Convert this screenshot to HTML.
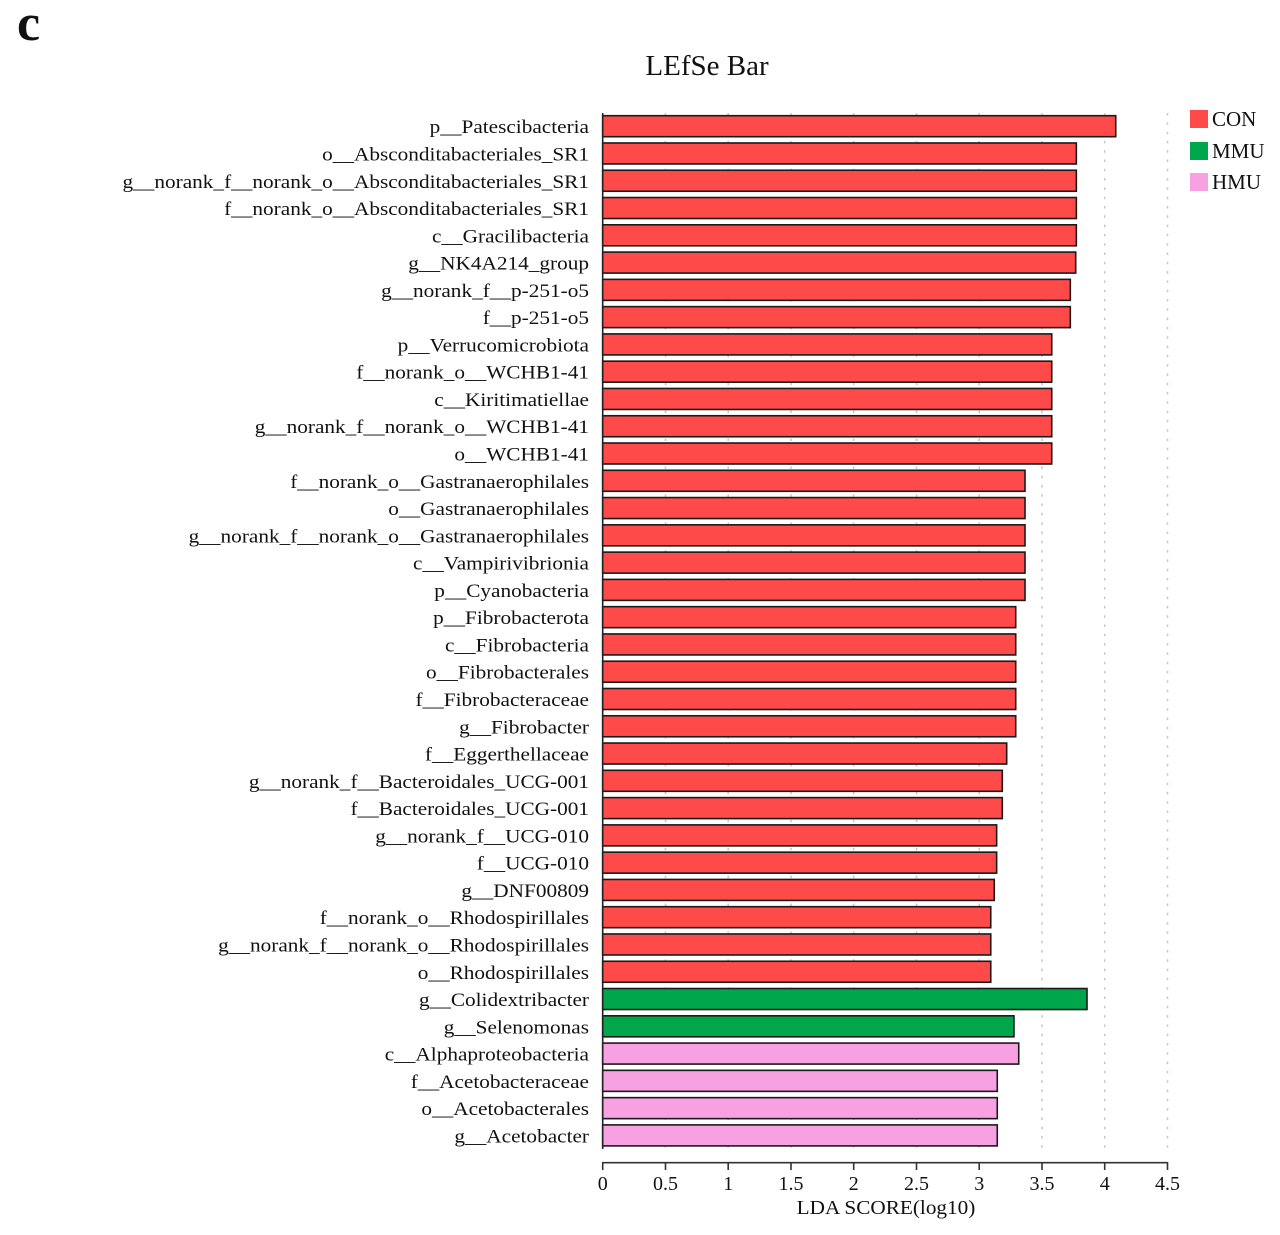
<!DOCTYPE html>
<html>
<head>
<meta charset="utf-8">
<style>
html,body{margin:0;padding:0;background:#fff;}
svg{display:block;}
text{font-family:"Liberation Serif","Times New Roman",serif;fill:#111;}
</style>
</head>
<body>
<svg width="1280" height="1235" viewBox="0 0 1280 1235" xmlns="http://www.w3.org/2000/svg">
<rect width="1280" height="1235" fill="#fff"/>
<text x="17" y="40" font-size="52" font-weight="bold">c</text>
<text x="707" y="75" font-size="29" text-anchor="middle">LEfSe Bar</text>

<!-- gridlines -->
<g stroke="#c8c8c8" stroke-width="1.6" stroke-dasharray="2.5,6.8">
<line x1="665.5" y1="113" x2="665.5" y2="1150"/>
<line x1="728.2" y1="113" x2="728.2" y2="1150"/>
<line x1="791" y1="113" x2="791" y2="1150"/>
<line x1="853.7" y1="113" x2="853.7" y2="1150"/>
<line x1="916.5" y1="113" x2="916.5" y2="1150"/>
<line x1="979.2" y1="113" x2="979.2" y2="1150"/>
<line x1="1042" y1="113" x2="1042" y2="1150"/>
<line x1="1104.7" y1="113" x2="1104.7" y2="1150"/>
<line x1="1167.5" y1="113" x2="1167.5" y2="1150"/>
</g>

<g stroke="#1a1a1a" stroke-width="1.6" fill="#ff4a4a">
<rect x="602.7" y="115.70" width="513.04" height="21"/>
<rect x="602.7" y="142.98" width="473.64" height="21"/>
<rect x="602.7" y="170.25" width="473.64" height="21"/>
<rect x="602.7" y="197.53" width="473.64" height="21"/>
<rect x="602.7" y="224.80" width="473.64" height="21"/>
<rect x="602.7" y="252.08" width="473.01" height="21"/>
<rect x="602.7" y="279.36" width="467.61" height="21"/>
<rect x="602.7" y="306.63" width="467.61" height="21"/>
<rect x="602.7" y="333.91" width="449.04" height="21"/>
<rect x="602.7" y="361.18" width="449.04" height="21"/>
<rect x="602.7" y="388.46" width="449.04" height="21"/>
<rect x="602.7" y="415.74" width="449.04" height="21"/>
<rect x="602.7" y="443.01" width="449.04" height="21"/>
<rect x="602.7" y="470.29" width="422.31" height="21"/>
<rect x="602.7" y="497.56" width="422.31" height="21"/>
<rect x="602.7" y="524.84" width="422.31" height="21"/>
<rect x="602.7" y="552.12" width="422.31" height="21"/>
<rect x="602.7" y="579.39" width="422.31" height="21"/>
<rect x="602.7" y="606.67" width="413.02" height="21"/>
<rect x="602.7" y="633.94" width="413.02" height="21"/>
<rect x="602.7" y="661.22" width="413.02" height="21"/>
<rect x="602.7" y="688.50" width="413.02" height="21"/>
<rect x="602.7" y="715.77" width="413.02" height="21"/>
<rect x="602.7" y="743.05" width="403.98" height="21"/>
<rect x="602.7" y="770.32" width="399.59" height="21"/>
<rect x="602.7" y="797.60" width="399.59" height="21"/>
<rect x="602.7" y="824.88" width="393.94" height="21"/>
<rect x="602.7" y="852.15" width="393.94" height="21"/>
<rect x="602.7" y="879.43" width="391.56" height="21"/>
<rect x="602.7" y="906.70" width="388.05" height="21"/>
<rect x="602.7" y="933.98" width="388.05" height="21"/>
<rect x="602.7" y="961.26" width="388.05" height="21"/>
<rect x="602.7" y="988.53" width="484.30" height="21" fill="#00a64a"/>
<rect x="602.7" y="1015.81" width="411.26" height="21" fill="#00a64a"/>
<rect x="602.7" y="1043.08" width="416.03" height="21" fill="#f7a0e2"/>
<rect x="602.7" y="1070.36" width="394.57" height="21" fill="#f7a0e2"/>
<rect x="602.7" y="1097.64" width="394.57" height="21" fill="#f7a0e2"/>
<rect x="602.7" y="1124.91" width="394.57" height="21" fill="#f7a0e2"/>
</g>

<g font-size="19" text-anchor="end">
<text transform="translate(589,133.20) scale(1.12,1)">p__Patescibacteria</text>
<text transform="translate(589,160.48) scale(1.12,1)">o__Absconditabacteriales_SR1</text>
<text transform="translate(589,187.75) scale(1.12,1)">g__norank_f__norank_o__Absconditabacteriales_SR1</text>
<text transform="translate(589,215.03) scale(1.12,1)">f__norank_o__Absconditabacteriales_SR1</text>
<text transform="translate(589,242.30) scale(1.12,1)">c__Gracilibacteria</text>
<text transform="translate(589,269.58) scale(1.12,1)">g__NK4A214_group</text>
<text transform="translate(589,296.86) scale(1.12,1)">g__norank_f__p-251-o5</text>
<text transform="translate(589,324.13) scale(1.12,1)">f__p-251-o5</text>
<text transform="translate(589,351.41) scale(1.12,1)">p__Verrucomicrobiota</text>
<text transform="translate(589,378.68) scale(1.12,1)">f__norank_o__WCHB1-41</text>
<text transform="translate(589,405.96) scale(1.12,1)">c__Kiritimatiellae</text>
<text transform="translate(589,433.24) scale(1.12,1)">g__norank_f__norank_o__WCHB1-41</text>
<text transform="translate(589,460.51) scale(1.12,1)">o__WCHB1-41</text>
<text transform="translate(589,487.79) scale(1.12,1)">f__norank_o__Gastranaerophilales</text>
<text transform="translate(589,515.06) scale(1.12,1)">o__Gastranaerophilales</text>
<text transform="translate(589,542.34) scale(1.12,1)">g__norank_f__norank_o__Gastranaerophilales</text>
<text transform="translate(589,569.62) scale(1.12,1)">c__Vampirivibrionia</text>
<text transform="translate(589,596.89) scale(1.12,1)">p__Cyanobacteria</text>
<text transform="translate(589,624.17) scale(1.12,1)">p__Fibrobacterota</text>
<text transform="translate(589,651.44) scale(1.12,1)">c__Fibrobacteria</text>
<text transform="translate(589,678.72) scale(1.12,1)">o__Fibrobacterales</text>
<text transform="translate(589,706.00) scale(1.12,1)">f__Fibrobacteraceae</text>
<text transform="translate(589,733.27) scale(1.12,1)">g__Fibrobacter</text>
<text transform="translate(589,760.55) scale(1.12,1)">f__Eggerthellaceae</text>
<text transform="translate(589,787.82) scale(1.12,1)">g__norank_f__Bacteroidales_UCG-001</text>
<text transform="translate(589,815.10) scale(1.12,1)">f__Bacteroidales_UCG-001</text>
<text transform="translate(589,842.38) scale(1.12,1)">g__norank_f__UCG-010</text>
<text transform="translate(589,869.65) scale(1.12,1)">f__UCG-010</text>
<text transform="translate(589,896.93) scale(1.12,1)">g__DNF00809</text>
<text transform="translate(589,924.20) scale(1.12,1)">f__norank_o__Rhodospirillales</text>
<text transform="translate(589,951.48) scale(1.12,1)">g__norank_f__norank_o__Rhodospirillales</text>
<text transform="translate(589,978.76) scale(1.12,1)">o__Rhodospirillales</text>
<text transform="translate(589,1006.03) scale(1.12,1)">g__Colidextribacter</text>
<text transform="translate(589,1033.31) scale(1.12,1)">g__Selenomonas</text>
<text transform="translate(589,1060.58) scale(1.12,1)">c__Alphaproteobacteria</text>
<text transform="translate(589,1087.86) scale(1.12,1)">f__Acetobacteraceae</text>
<text transform="translate(589,1115.14) scale(1.12,1)">o__Acetobacterales</text>
<text transform="translate(589,1142.41) scale(1.12,1)">g__Acetobacter</text>
</g>

<!-- left axis -->
<line x1="602.7" y1="113" x2="602.7" y2="1149" stroke="#222" stroke-width="1.6"/>

<!-- x axis -->
<g stroke="#333" stroke-width="1.6">
<line x1="602.7" y1="1162.7" x2="1167.5" y2="1162.7"/>
<line x1="602.7" y1="1162" x2="602.7" y2="1170"/>
<line x1="665.5" y1="1162" x2="665.5" y2="1170"/>
<line x1="728.2" y1="1162" x2="728.2" y2="1170"/>
<line x1="791" y1="1162" x2="791" y2="1170"/>
<line x1="853.7" y1="1162" x2="853.7" y2="1170"/>
<line x1="916.5" y1="1162" x2="916.5" y2="1170"/>
<line x1="979.2" y1="1162" x2="979.2" y2="1170"/>
<line x1="1042" y1="1162" x2="1042" y2="1170"/>
<line x1="1104.7" y1="1162" x2="1104.7" y2="1170"/>
<line x1="1167.5" y1="1162" x2="1167.5" y2="1170"/>
</g>
<g font-size="20" text-anchor="middle">
<text x="602.7" y="1190">0</text>
<text x="665.5" y="1190">0.5</text>
<text x="728.2" y="1190">1</text>
<text x="791" y="1190">1.5</text>
<text x="853.7" y="1190">2</text>
<text x="916.5" y="1190">2.5</text>
<text x="979.2" y="1190">3</text>
<text x="1042" y="1190">3.5</text>
<text x="1104.7" y="1190">4</text>
<text x="1167.5" y="1190">4.5</text>
</g>
<text font-size="19.5" text-anchor="middle" transform="translate(886,1214) scale(1.09,1)">LDA SCORE(log10)</text>

<!-- legend -->
<rect x="1190" y="110" width="18" height="18" fill="#ff4a4a"/>
<rect x="1190" y="142" width="18" height="18" fill="#00a64a"/>
<rect x="1190" y="173" width="18" height="18" fill="#f7a0e2"/>
<text x="1212" y="126" font-size="21">CON</text>
<text x="1212" y="158" font-size="21">MMU</text>
<text x="1212" y="189" font-size="21">HMU</text>
</svg>
</body>
</html>
